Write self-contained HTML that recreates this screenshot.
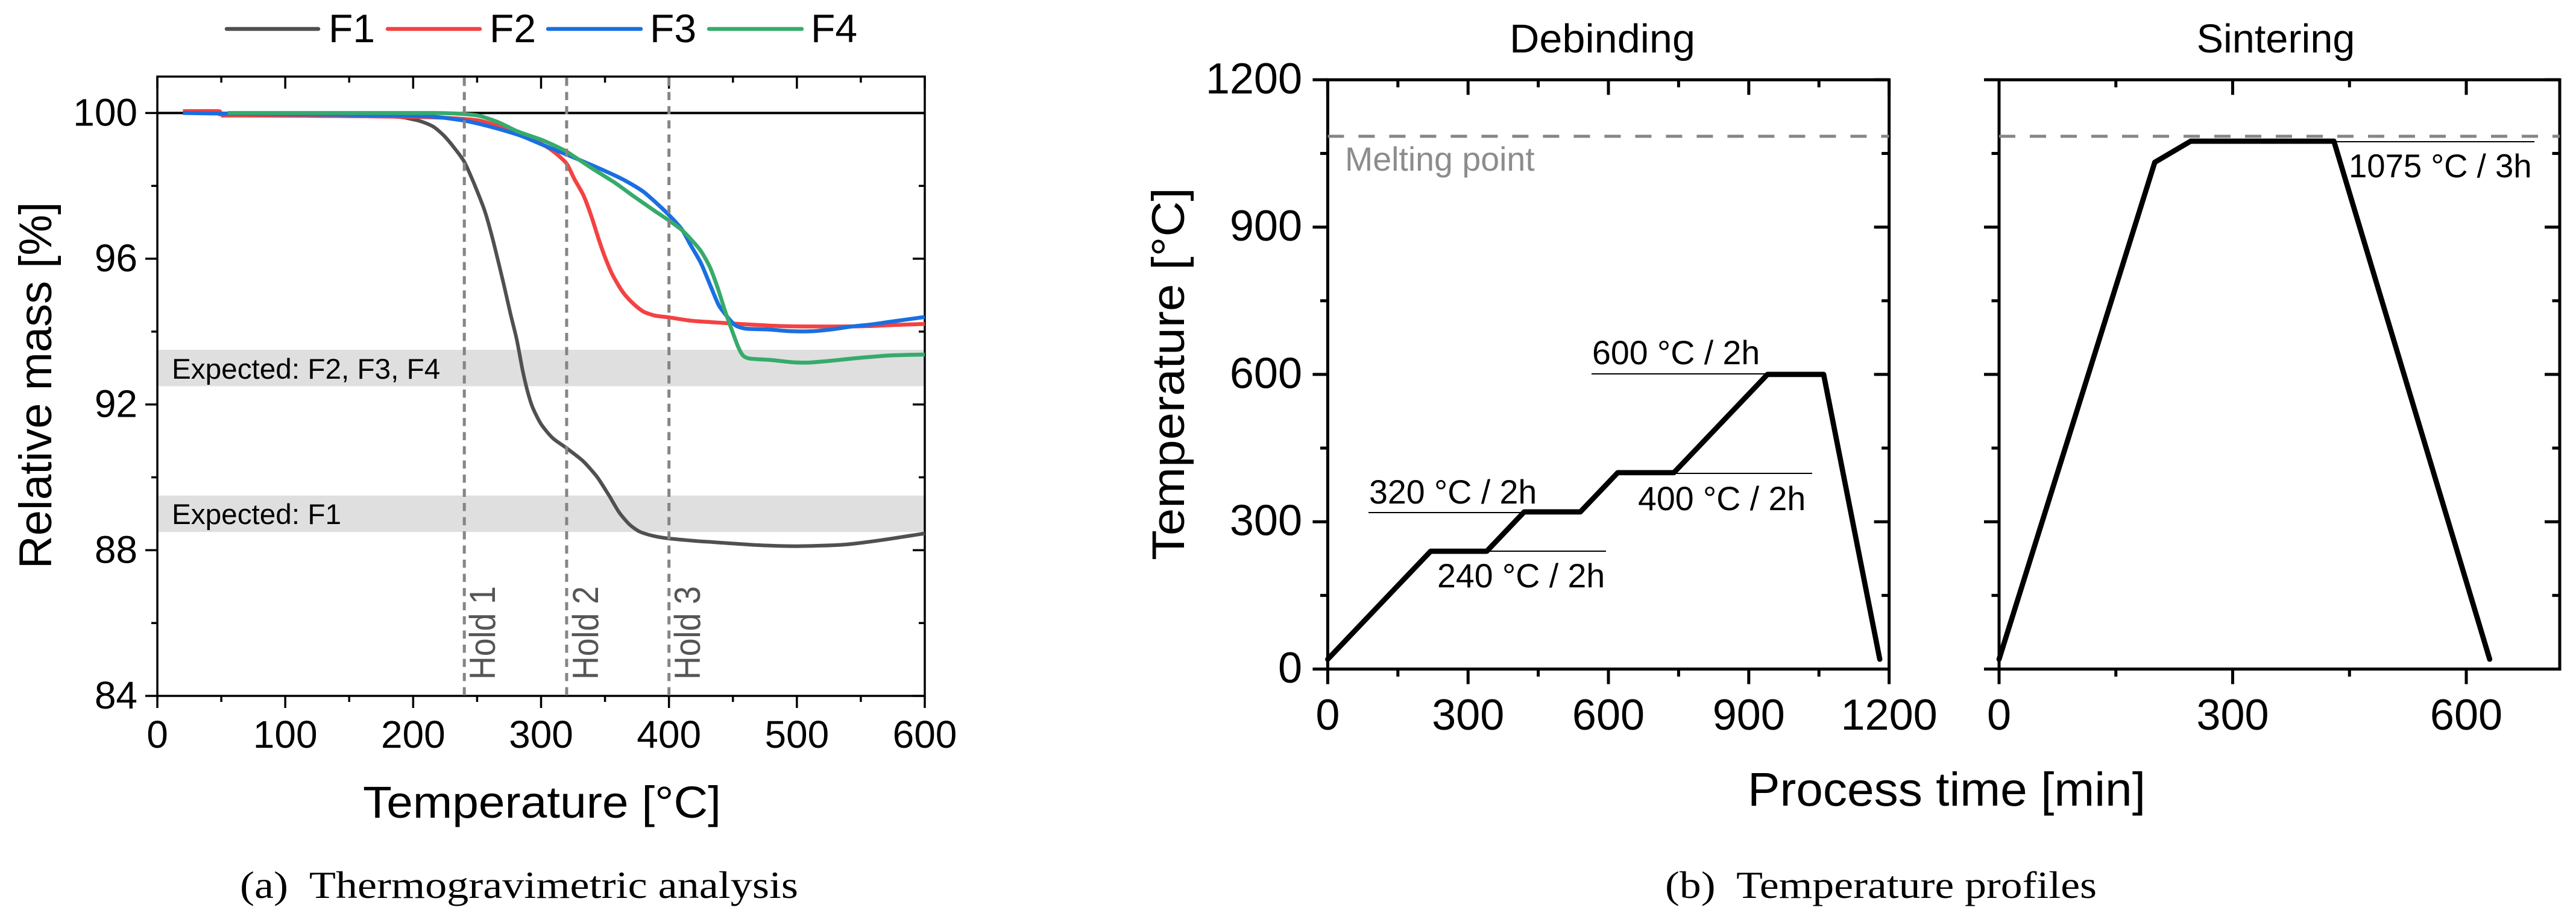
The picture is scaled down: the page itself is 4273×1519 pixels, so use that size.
<!DOCTYPE html>
<html lang="en">
<head>
<meta charset="utf-8">
<title>Thermogravimetric analysis and temperature profiles</title>
<style>
html,body{margin:0;padding:0;background:#fff;}
svg{display:block;}
text{font-family:"Liberation Sans",Arial,sans-serif;fill:#000;white-space:pre;}
.cap{font-family:"Liberation Serif",serif;}
</style>
</head>
<body>
<svg id="fig" xmlns="http://www.w3.org/2000/svg" width="4273" height="1519" viewBox="0 0 4273 1519">
  <rect x="0" y="0" width="4273" height="1519" fill="#fff"/>

  <g id="tga"></g>
  <g id="deb"></g>
  <g id="sin"></g>

  <!-- Legend -->
  <g>
    <line x1="376" x2="528" y1="48" y2="48" stroke="#505050" stroke-width="6.5" stroke-linecap="round"/>
    <text x="545" y="70" font-size="66">F1</text>
    <line x1="643" x2="796" y1="48" y2="48" stroke="#f44242" stroke-width="6.5" stroke-linecap="round"/>
    <text x="812" y="70" font-size="66">F2</text>
    <line x1="909" x2="1063" y1="48" y2="48" stroke="#1a6fe0" stroke-width="6.5" stroke-linecap="round"/>
    <text x="1078" y="70" font-size="66">F3</text>
    <line x1="1176" x2="1330" y1="48" y2="48" stroke="#36ab6b" stroke-width="6.5" stroke-linecap="round"/>
    <text x="1345" y="70" font-size="66">F4</text>
  </g>

  <!-- Axis titles -->
  <text transform="translate(85,639) rotate(-90)" text-anchor="middle" font-size="76">Relative mass [%]</text>
  <text x="602" y="1356" font-size="74" textLength="594" lengthAdjust="spacingAndGlyphs">Temperature [°C]</text>
  <text transform="translate(1964,929) rotate(-90)" font-size="76.5" textLength="618" lengthAdjust="spacingAndGlyphs">Temperature [°C]</text>
  <text x="2899" y="1336" font-size="79" textLength="660" lengthAdjust="spacingAndGlyphs">Process time [min]</text>
  <text x="2504" y="87" font-size="66.6" textLength="308" lengthAdjust="spacingAndGlyphs">Debinding</text>
  <text x="3775" y="87" text-anchor="middle" font-size="66.6">Sintering</text>

  <!-- TGA annotations -->
  <text x="285" y="628" font-size="47.7">Expected: F2, F3, F4</text>
  <text x="285" y="869" font-size="47.7">Expected: F1</text>
  <text transform="translate(821,1127) rotate(-90)" font-size="60" textLength="155" lengthAdjust="spacingAndGlyphs" style="fill:#555">Hold 1</text>
  <text transform="translate(992,1127) rotate(-90)" font-size="60" textLength="155" lengthAdjust="spacingAndGlyphs" style="fill:#555">Hold 2</text>
  <text transform="translate(1161,1127) rotate(-90)" font-size="60" textLength="155" lengthAdjust="spacingAndGlyphs" style="fill:#555">Hold 3</text>

  <!-- Profile annotations -->
  <text x="2231" y="283" font-size="55.5" style="fill:#8c8c8c">Melting point</text>
  <line x1="2468" x2="2664" y1="914" y2="914" stroke="#000" stroke-width="2"/>
  <text x="2384" y="974" font-size="55.5">240 °C / 2h</text>
  <line x1="2270" x2="2530" y1="850" y2="850" stroke="#000" stroke-width="2"/>
  <text x="2271" y="835" font-size="55.5">320 °C / 2h</text>
  <line x1="2777" x2="3006" y1="785" y2="785" stroke="#000" stroke-width="2"/>
  <text x="2717" y="846" font-size="55.5">400 °C / 2h</text>
  <line x1="2640" x2="2932" y1="620" y2="620" stroke="#000" stroke-width="2"/>
  <text x="2641" y="604" font-size="55.5">600 °C / 2h</text>
  <line x1="3870" x2="4204" y1="235" y2="235" stroke="#000" stroke-width="2"/>
  <text x="3896" y="294" font-size="54.5">1075 °C / 3h</text>

  <!-- Captions -->
  <text class="cap" x="398" y="1489" font-size="64" textLength="926" lengthAdjust="spacingAndGlyphs">(a)  Thermogravimetric analysis</text>
  <text class="cap" x="2762" y="1489" font-size="64" textLength="716" lengthAdjust="spacingAndGlyphs">(b)  Temperature profiles</text>
</svg>

<script>
// ---- TGA data (temperature in °C, relative mass in %) ----
const f1Temp = [50,120,185,199,207,216,224,232,240,248,256,263,271,276,281,285.5,289.5,293.5,300,309,320,333,344,353,361,369,377,388,400,422,435,469,500,536,565,600];
const f1Mass = [99.93,99.92,99.90,99.83,99.76,99.62,99.38,99.05,98.66,98.03,97.31,96.43,95.27,94.50,93.78,92.95,92.35,91.91,91.46,91.08,90.80,90.44,90.00,89.51,89.04,88.71,88.51,88.39,88.32,88.25,88.22,88.14,88.11,88.15,88.27,88.46];
const f2Temp = [20,48,52,120,207,234,252,270,288,304,311,320,326,333,339,345,350,356,364,372,380,389,400,417,433,446,465,488,512,535,556,575,600];
const f2Mass = [100.05,100.05,99.95,99.93,99.89,99.85,99.79,99.60,99.36,99.08,98.91,98.61,98.19,97.75,97.20,96.54,96.04,95.55,95.08,94.77,94.55,94.44,94.39,94.30,94.26,94.23,94.19,94.15,94.14,94.14,94.15,94.18,94.21];
const f3Temp = [20,60,120,190,216,240,263,284,303,320,339,355,367,380,392,400,410,417,425,433,439,446,452,460,477,496,512,527,543,559,575,600];
const f3Mass = [100.0,99.98,99.96,99.93,99.90,99.79,99.60,99.38,99.10,98.86,98.58,98.33,98.12,97.84,97.47,97.20,96.81,96.37,95.88,95.21,94.72,94.39,94.17,94.08,94.06,94.01,94.01,94.06,94.14,94.20,94.28,94.40];
const f4Temp = [55,120,216,240,252,267,282,300,311,320,339,358,373,389,400,410,417,425,432,438,444,449,454,458,463,480,496,510,527,543,559,575,600];
const f4Mass = [100.0,100.0,100.0,99.97,99.92,99.74,99.49,99.27,99.10,98.94,98.50,98.08,97.70,97.31,97.05,96.79,96.54,96.21,95.77,95.21,94.55,94.06,93.59,93.34,93.26,93.22,93.16,93.15,93.20,93.26,93.31,93.35,93.37];
const holdTemps = [240,320,400];
const bandLow = [92.5,88.5];
const bandHigh = [93.5,89.5];
const referenceMass = [100];
const tgaXTicks = [0,100,200,300,400,500,600];
const tgaXMinor = [50,150,250,350,450,550];
const tgaYTicks = [84,88,92,96,100];
const tgaYMinor = [86,90,94,98];

// ---- Temperature-profile data (time in min, temperature in °C) ----
const debTime = [0,220,340,420,540,620,740,940,1060,1180];
const debTemp = [20,240,240,320,320,400,400,600,600,20];
const sinTime = [0,200,246,430,630];
const sinTemp = [20,1032,1075,1075,20];
const meltingPoint = [1085];
const profileYTicks = [0,300,600,900,1200];
const profileYMinor = [150,450,750,1050];
const debXTicks = [0,300,600,900,1200];
const debXMinor = [150,450,750,1050];
const sinXTicks = [0,300,600];
const sinXMinor = [150,450];

const NS = 'http://www.w3.org/2000/svg';
function mk(parent, tag, attrs, txt){
  const el = document.createElementNS(NS, tag);
  for (const k in attrs) el.setAttribute(k, attrs[k]);
  if (txt !== undefined) el.textContent = txt;
  parent.appendChild(el);
  return el;
}
function linScale(d0, d1, r0, r1){ return v => r0 + (v - d0) * (r1 - r0) / (d1 - d0); }

function smoothPath(xs, ys){
  let d = 'M' + xs[0].toFixed(1) + ' ' + ys[0].toFixed(1);
  for (let i = 0; i < xs.length - 1; i++){
    const x0 = xs[Math.max(i-1,0)], y0 = ys[Math.max(i-1,0)];
    const x1 = xs[i], y1 = ys[i], x2 = xs[i+1], y2 = ys[i+1];
    const x3 = xs[Math.min(i+2,xs.length-1)], y3 = ys[Math.min(i+2,xs.length-1)];
    const k = 0.12;
    d += ' C' + (x1+(x2-x0)*k).toFixed(1) + ' ' + (y1+(y2-y0)*k).toFixed(1) + ' ' +
         (x2-(x3-x1)*k).toFixed(1) + ' ' + (y2-(y3-y1)*k).toFixed(1) + ' ' + x2.toFixed(1) + ' ' + y2.toFixed(1);
  }
  return d;
}
function polyPath(xs, ys){
  return xs.map((x,i) => (i ? 'L' : 'M') + x.toFixed(1) + ' ' + ys[i].toFixed(1)).join(' ');
}

function drawFrame(g, o){
  const sw = o.sw;
  o.xTicks.forEach(v => {
    const x = o.sx(v);
    const t1 = mk(g,'line',{x1:x,x2:x,y1:o.bottom,y2:o.bottom+o.major,stroke:'#000','stroke-width':sw});
    
    
    const t2 = mk(g,'line',{x1:x,x2:x,y1:o.top,y2:o.top+o.major,stroke:'#000','stroke-width':sw});
    
    
    const lb = mk(g,'text',{x:x,y:o.xLabelY,'text-anchor':'middle','font-size':o.fs},String(v));
    
    
  });
  o.xMinor.forEach(v => {
    const x = o.sx(v);
    const t1 = mk(g,'line',{x1:x,x2:x,y1:o.bottom,y2:o.bottom+o.minor,stroke:'#000','stroke-width':sw});
    
    
    const t2 = mk(g,'line',{x1:x,x2:x,y1:o.top,y2:o.top+o.minor,stroke:'#000','stroke-width':sw});
    
    
  });
  o.yTicks.forEach(v => {
    const y = o.sy(v);
    const t1 = mk(g,'line',{x1:o.left-o.major,x2:o.left,y1:y,y2:y,stroke:'#000','stroke-width':sw});
    
    
    const t2 = mk(g,'line',{x1:o.right-o.major,x2:o.right,y1:y,y2:y,stroke:'#000','stroke-width':sw});
    
    
    if (o.yLabels){
      const lb = mk(g,'text',{x:o.yLabelX,y:y+o.yLabelDy,'text-anchor':'end','font-size':o.fs},String(v));
      
      
    }
  });
  o.yMinor.forEach(v => {
    const y = o.sy(v);
    const t1 = mk(g,'line',{x1:o.left-o.minor,x2:o.left,y1:y,y2:y,stroke:'#000','stroke-width':sw});
    
    
    const t2 = mk(g,'line',{x1:o.right-o.minor,x2:o.right,y1:y,y2:y,stroke:'#000','stroke-width':sw});
    
    
  });
  const fr = mk(g,'rect',{x:o.left,y:o.top,width:o.right-o.left,height:o.bottom-o.top,fill:'none',stroke:'#000','stroke-width':sw});
  
  
}

// ---------- TGA chart ----------
(function(){
  const g = document.getElementById('tga');
  const left = 261, right = 1534, top = 127, bottom = 1154;
  const sx = linScale(0, 600, left, right);
  const sy = linScale(84, 101, bottom, top);

  bandLow.forEach((lo,i) => {
    const r = mk(g,'rect',{x:left,y:sy(bandHigh[i]),width:right-left,height:sy(lo)-sy(bandHigh[i]),fill:'#dfdfdf'});
    
    
  });

  drawFrame(g,{left,right,top,bottom,sx,sy,sw:3.5,major:20,minor:10,fs:64,
    xTicks:tgaXTicks,xMinor:tgaXMinor,yTicks:tgaYTicks,yMinor:tgaYMinor,
    xLabelY:1240,yLabels:true,yLabelX:228,yLabelDy:21});

  const ref = mk(g,'line',{x1:left,x2:right,y1:sy(referenceMass[0]),y2:sy(referenceMass[0]),stroke:'#000','stroke-width':4});
  
  

  const c1 = mk(g,'path',{d:smoothPath(f1Temp.map(sx),f1Mass.map(sy)),fill:'none',stroke:'#505050','stroke-width':6,'stroke-linejoin':'round'});
  
  
  const c2 = mk(g,'path',{d:smoothPath(f2Temp.map(sx),f2Mass.map(sy)),fill:'none',stroke:'#f44242','stroke-width':6.5,'stroke-linejoin':'round'});
  
  
  const c3 = mk(g,'path',{d:smoothPath(f3Temp.map(sx),f3Mass.map(sy)),fill:'none',stroke:'#1a6fe0','stroke-width':6.5,'stroke-linejoin':'round'});
  
  
  const c4 = mk(g,'path',{d:smoothPath(f4Temp.map(sx),f4Mass.map(sy)),fill:'none',stroke:'#36ab6b','stroke-width':6.5,'stroke-linejoin':'round'});
  
  

  holdTemps.forEach(t => {
    const l = mk(g,'line',{x1:sx(t),x2:sx(t),y1:top+2,y2:bottom,stroke:'#858585','stroke-width':5,'stroke-dasharray':'13.5 10'});
    
    
  });
})();

// ---------- Debinding chart ----------
(function(){
  const g = document.getElementById('deb');
  const left = 2202.4, right = 3133.6, top = 132.3, bottom = 1109.5;
  const sx = linScale(0, 1200, left, right);
  const sy = linScale(0, 1200, bottom, top);
  drawFrame(g,{left,right,top,bottom,sx,sy,sw:5,major:25,minor:12.5,fs:72,
    xTicks:debXTicks,xMinor:debXMinor,yTicks:profileYTicks,yMinor:profileYMinor,
    xLabelY:1210,yLabels:true,yLabelX:2160,yLabelDy:22.5});
  const m = mk(g,'line',{x1:left,x2:right,y1:sy(meltingPoint[0]),y2:sy(meltingPoint[0]),stroke:'#858585','stroke-width':5,'stroke-dasharray':'27 24'});
  
  
  const p = mk(g,'path',{d:polyPath(debTime.map(sx),debTemp.map(sy)),fill:'none',stroke:'#000','stroke-width':8.7,'stroke-linejoin':'round','stroke-linecap':'round'});
  
  
})();

// ---------- Sintering chart ----------
(function(){
  const g = document.getElementById('sin');
  const left = 3316, right = 4246, top = 132.3, bottom = 1109.5;
  const sx = linScale(0, 720, left, right);
  const sy = linScale(0, 1200, bottom, top);
  drawFrame(g,{left,right,top,bottom,sx,sy,sw:5,major:25,minor:12.5,fs:72,
    xTicks:sinXTicks,xMinor:sinXMinor,yTicks:profileYTicks,yMinor:profileYMinor,
    xLabelY:1210,yLabels:false});
  const m = mk(g,'line',{x1:left,x2:right,y1:sy(meltingPoint[0]),y2:sy(meltingPoint[0]),stroke:'#858585','stroke-width':5,'stroke-dasharray':'27 24'});
  
  
  const p = mk(g,'path',{d:polyPath(sinTime.map(sx),sinTemp.map(sy)),fill:'none',stroke:'#000','stroke-width':8.7,'stroke-linejoin':'round','stroke-linecap':'round'});
  
  
})();
</script>
</body>
</html>
